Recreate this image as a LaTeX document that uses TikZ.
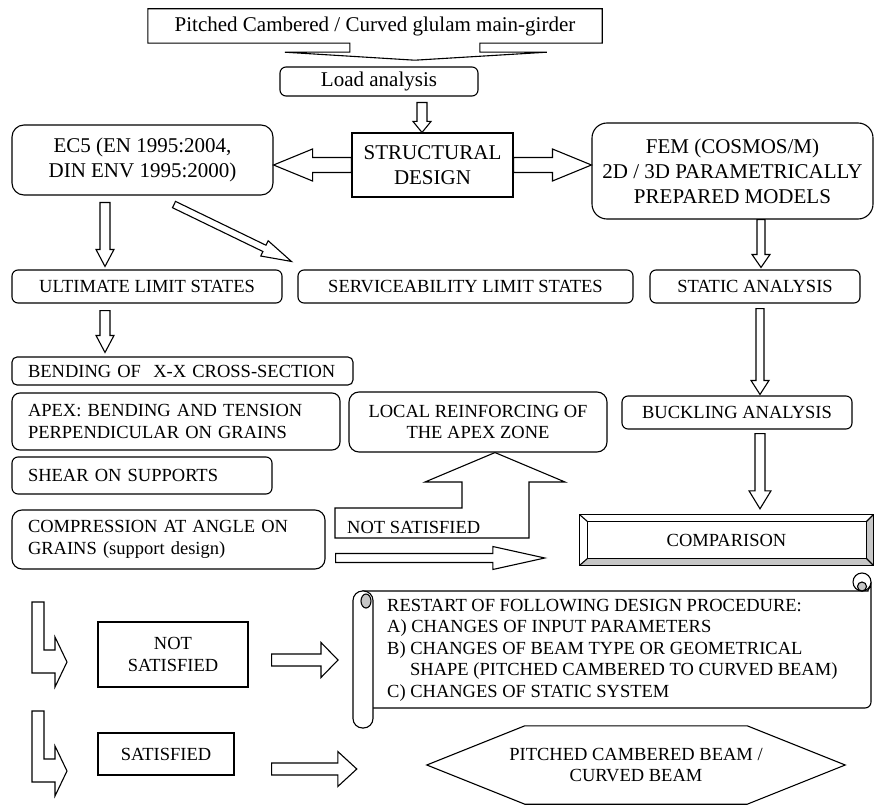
\documentclass[tikz,border=0pt]{standalone}
\usepackage{fontspec}
\setmainfont{Liberation Serif}
\usetikzlibrary{calc,positioning,backgrounds}

\newcommand{\topsize}{\fontsize{21}{25}\selectfont}
\newcommand{\lowsize}{\fontsize{18.5}{21.5}\selectfont}

% hollow block arrow: start, tip, shaft half width, head half width, head length
\newcommand{\fatarrow}[5]{%
  \draw[blockarrow]
    ($(#1)!#3!90:(#2)$) --
    ($(#2)!#5!(#1)!#3!-90:(#1)$) --
    ($(#2)!#5!(#1)!#4!-90:(#1)$) --
    (#2) --
    ($(#2)!#5!(#1)!#4!90:(#1)$) --
    ($(#2)!#5!(#1)!#3!90:(#1)$) --
    ($(#1)!#3!-90:(#2)$) -- cycle;}

\tikzset{
  outline/.style={line width=1.1pt},
  rbox/.style={draw, outline, rounded corners=#1, inner sep=0pt, align=center, font=\lowsize},
  rbox/.default=6pt,
  lbox/.style={rbox=#1, align=left, inner xsep=16pt},
  lbox/.default=6pt,
  sbox/.style={draw, outline, inner sep=0pt, align=center, font=\lowsize},
  blockarrow/.style={draw, outline, fill=white, line join=miter},
}

\begin{document}
\begin{tikzpicture}[x=1pt, y=-1pt]
  \useasboundingbox (0,0) rectangle (875,805);

  % Title with callout
  \node[font=\topsize, inner sep=0pt, minimum width=454pt, minimum height=34pt] (title) at (375,26)
    {Pitched Cambered / Curved glulam main-girder};
  \draw[outline] (title.south west) -- (title.north west) -- (title.north east) -- (title.south east)
    -- ($(title.south west)+(332,0)$) -- ($(title.south west)+(332,9)$) -- ($(title.south west)+(399,9)$)
    -- ($(title.south west)+(267,17)$) -- ($(title.south west)+(137,9)$) -- ($(title.south west)+(202,9)$)
    -- ($(title.south west)+(202,0)$) -- cycle;

  \node[rbox, font=\topsize, minimum width=198pt, minimum height=29pt] (load) at (379,81.5) {Load analysis};
  \node[sbox, font=\topsize, minimum width=161pt, minimum height=64pt] (struct) at (432.5,165) {STRUCTURAL\\DESIGN};
  \node[rbox=12pt, font=\topsize, minimum width=261pt, minimum height=70pt] (ec5) at (142.5,160)
    {EC5 (EN 1995:2004,\\DIN ENV 1995:2000)};
  \node[rbox=15pt, font=\topsize, minimum width=281pt, minimum height=96pt] (fem) at (732.5,171)
    {FEM (COSMOS/M)\\2D / 3D PARAMETRICALLY\\PREPARED MODELS};

  % Limit states row
  \foreach \nm/\cx/\w/\txt in {uls/147/270pt/ULTIMATE LIMIT STATES,
      sls/465.5/335pt/SERVICEABILITY LIMIT STATES, static/755/210pt/STATIC ANALYSIS}
    \node[rbox, minimum width=\w, minimum height=33pt] (\nm) at (\cx,286.5) {\txt};

  % Checks
  \node[lbox=5pt, text width=309pt, minimum height=28pt] (bending) at (182.5,371) {BENDING OF\ \ X-X CROSS-SECTION};
  \node[lbox=8pt, text width=296pt, minimum height=57pt] (apex) at (176,421.5)
    {APEX: BENDING AND TENSION\\PERPENDICULAR ON GRAINS};
  \node[lbox, text width=228pt, minimum height=37pt] (shear) at (142,475.5) {SHEAR ON SUPPORTS};
  \node[lbox=10pt, text width=281pt, minimum height=59pt] (compr) at (168.5,539.5)
    {COMPRESSION AT ANGLE ON\\GRAINS (support design)};
  \node[rbox=10pt, minimum width=258pt, minimum height=60pt] (local) at (478,422)
    {LOCAL REINFORCING OF\\THE APEX ZONE};
  \node[rbox, minimum width=230pt, minimum height=33pt] (buckling) at (737,412.5) {BUCKLING ANALYSIS};

  % Comparison with bevel frame
  \node[font=\lowsize, inner sep=0pt, minimum width=293pt, minimum height=50pt] (comp) at (726.5,540) {COMPARISON};
  \begin{scope}[on background layer]
    \fill[gray!45] (comp.north west) rectangle (comp.south east);
    \fill[white] (comp.north west) -- (comp.north east) -- ($(comp.north east)+(-7,7)$)
      -- ($(comp.south west)+(8,-7)$) -- (comp.south west) -- cycle;
    \fill[white] ($(comp.north west)+(8,7)$) rectangle ($(comp.south east)+(-7,-7)$);
  \end{scope}
  \draw[outline] (comp.north west) rectangle (comp.south east);
  \draw[outline] ($(comp.north west)+(8,7)$) rectangle ($(comp.south east)+(-7,-7)$);
  \draw[outline] (comp.north west) -- ++(8,7) (comp.north east) -- ++(-7,7)
    (comp.south west) -- ++(8,-7) (comp.south east) -- ++(-7,-7);

  % Result boxes
  \node[sbox, minimum width=150pt, minimum height=65pt] (notsat) at (173,654.5) {NOT\\SATISFIED};
  \node[sbox, minimum width=136pt, minimum height=42pt] (sat) at (166,754) {SATISFIED};

  % Scroll
  \coordinate (scroll) at (353,591);
  \draw[outline, fill=white, rounded corners=6pt] (363,591) -- (862,591) [sharp corners] arc[start angle=-90, end angle=0, radius=9pt]
    [rounded corners=6pt] -- (871,708) -- (363,708) [sharp corners] -- cycle;
  \draw[outline, fill=white] (862,582) circle (9pt);
  \filldraw[outline, fill=gray!45] (862,586.5) circle (4.5pt);
  \draw[outline, fill=white, rounded corners=9.5pt] (scroll) rectangle (373,728);
  \filldraw[outline, fill=gray!45] (366,601) ellipse (5pt and 7pt);
  \node[font=\lowsize, align=left, anchor=west, inner sep=0pt] (restart) at (387,650)
    {RESTART OF FOLLOWING DESIGN PROCEDURE:\\A) CHANGES OF INPUT PARAMETERS\\B) CHANGES OF BEAM TYPE OR GEOMETRICAL\\
     \hspace*{23pt}SHAPE (PITCHED CAMBERED TO CURVED BEAM)\\C) CHANGES OF STATIC SYSTEM};

  % Hexagon
  \node[font=\lowsize, align=center, inner sep=0pt, minimum width=418pt, minimum height=78pt] (result) at (636,765)
    {PITCHED CAMBERED BEAM /\\CURVED BEAM};
  \draw[outline] (result.west) -- ($(result.north west)+(98,0)$) -- ($(result.north east)+(-98,0)$) -- (result.east)
    -- ($(result.south east)+(-98,0)$) -- ($(result.south west)+(98,0)$) -- cycle;

  % Block arrows
  \coordinate (la0) at ($(load.south)+(43,6)$);
  \coordinate (la1) at (struct.north -| la0);
  \fatarrow{la0}{la1}{5pt}{9pt}{11pt}
  \fatarrow{struct.west}{ec5.east |- struct.west}{7.5pt}{16pt}{39pt}
  \fatarrow{struct.east}{fem.west |- struct.east}{7.5pt}{16pt}{39pt}

  \coordinate (eu0) at ($(ec5.south)+(-37.5,7)$);
  \coordinate (eu1) at ($(uls.north -| eu0)+(0,-3)$);
  \fatarrow{eu0}{eu1}{5pt}{9pt}{17pt}
  \coordinate (es0) at ($(ec5.south)+(31.5,9)$);
  \coordinate (es1) at ($(sls.north west)+(-6,-8)$);
  \fatarrow{es0}{es1}{3.5pt}{8.5pt}{30pt}

  \coordinate (fs0) at ($(fem.south -| static.north)+(6,0)$);
  \coordinate (fs1) at ($(static.north -| fs0)+(0,-2)$);
  \fatarrow{fs0}{fs1}{4pt}{9pt}{13pt}

  \coordinate (ub0) at ($(uls.south)+(-42,7)$);
  \coordinate (ub1) at ($(bending.north -| ub0)+(0,-4)$);
  \fatarrow{ub0}{ub1}{5pt}{9pt}{17pt}

  \coordinate (sb0) at ($(static.south)+(5,5)$);
  \coordinate (sb1) at ($(buckling.north -| sb0)+(0,-1)$);
  \fatarrow{sb0}{sb1}{4pt}{9pt}{14pt}

  \coordinate (bc0) at ($(buckling.south)+(23,4)$);
  \coordinate (bc1) at ($(comp.north -| bc0)+(0,-6)$);
  \fatarrow{bc0}{bc1}{5pt}{11pt}{18pt}

  % Not satisfied -> local reinforcing
  \coordinate (nstip) at ($(local.south)+(17,0)$);
  \draw[blockarrow] (335,538) -- (335,508) -- (462,508) -- (462,482) -- (425,482) -- (nstip)
    -- (565,482) -- (529,482) -- (529,538) -- cycle;
  \node[font=\lowsize, anchor=west, inner sep=0pt] (nslabel) at (347,527) {NOT SATISFIED};

  \coordinate (cc0) at ($(compr.east)+(10,18.5)$);
  \coordinate (cc1) at ($(comp.west |- cc0)+(-35,0)$);
  \fatarrow{cc0}{cc1}{4.5pt}{11.5pt}{52pt}

  \coordinate (ns0) at ($(notsat.east)+(23,5.5)$);
  \coordinate (ns1) at ($(scroll |- ns0)+(-15,0)$);
  \fatarrow{ns0}{ns1}{6pt}{17.5pt}{17pt}

  \coordinate (sr0) at ($(sat.east)+(37,15)$);
  \coordinate (sr1) at ($(result.west |- sr0)+(-70,0)$);
  \fatarrow{sr0}{sr1}{6pt}{17.5pt}{19pt}

  % Bent arrows on the left
  \foreach \dy in {0,109}
    \draw[blockarrow, shift={(0,\dy)}] (32,602) -- (44,602) -- (44,650) -- (55,650) -- (55,637)
      -- (67,662) -- (55,687) -- (55,673) -- (32,673) -- cycle;
\end{tikzpicture}
\end{document}
